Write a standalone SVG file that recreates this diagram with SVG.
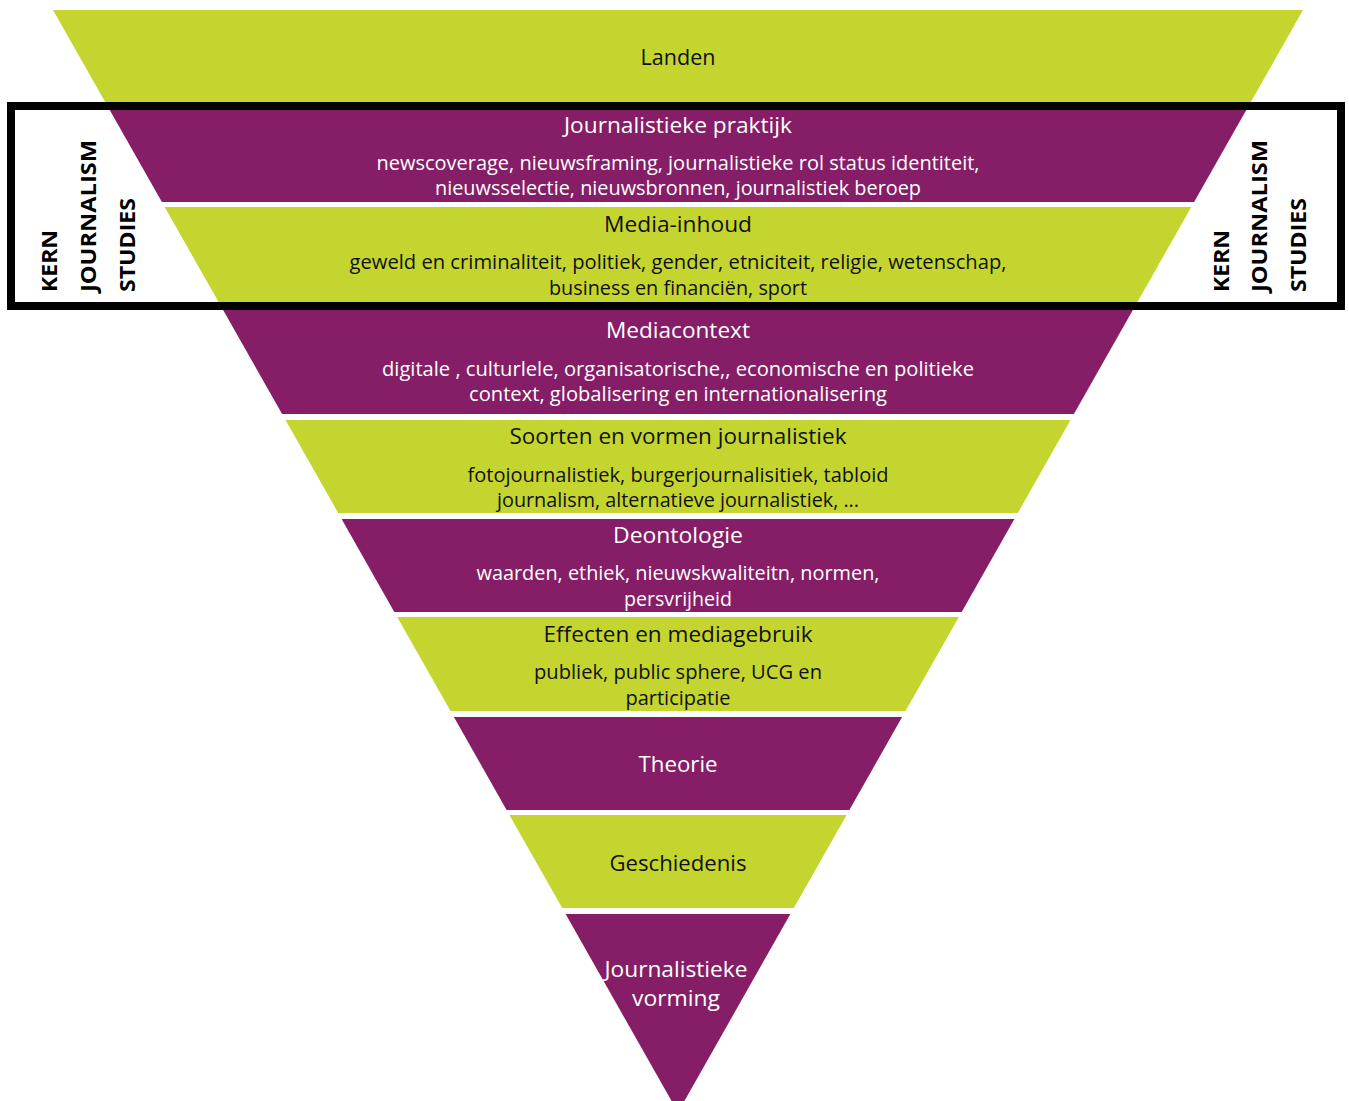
<svg xmlns="http://www.w3.org/2000/svg" width="1349" height="1101" viewBox="0 0 1349 1101">
<style>
.g{fill:#C5D52F}
.p{fill:#851E67}
text{font-family:"Open Sans","Noto Sans",sans-serif;text-anchor:middle}
.t{font-size:22.5px}
.b{font-size:20px}
.w{fill:#FFFFFF}
.k{fill:#111111}
.side{font-size:21px;font-weight:bold;fill:#000;text-anchor:start}
</style>
<rect width="1349" height="1101" fill="#FFFFFF"/>
<g id="landen">
<polygon class="g" points="53,10 1303,10 1250.8,102 105.2,102"/>
<text class="t k" x="678" y="65" textLength="75" lengthAdjust="spacingAndGlyphs">Landen</text>
</g>
<g id="journalistieke-praktijk">
<polygon class="p" points="108,107 1248,107 1194.1,202 161.9,202"/>
<text class="t w" x="678" y="133" textLength="228" lengthAdjust="spacingAndGlyphs">Journalistieke praktijk</text>
<text class="b w" x="678" y="170" textLength="603" lengthAdjust="spacingAndGlyphs">newscoverage, nieuwsframing, journalistieke rol status identiteit,</text>
<text class="b w" x="678" y="195" textLength="486" lengthAdjust="spacingAndGlyphs">nieuwsselectie, nieuwsbronnen, journalistiek beroep</text>
</g>
<g id="media-inhoud">
<polygon class="g" points="164.7,207 1191.3,207 1136.9,303 219.1,303"/>
<text class="t k" x="678" y="232" textLength="148" lengthAdjust="spacingAndGlyphs">Media-inhoud</text>
<text class="b k" x="678" y="269" textLength="657" lengthAdjust="spacingAndGlyphs">geweld en criminaliteit, politiek, gender, etniciteit, religie, wetenschap,</text>
<text class="b k" x="678" y="295" textLength="258" lengthAdjust="spacingAndGlyphs">business en financiën, sport</text>
</g>
<g id="mediacontext">
<polygon class="p" points="222,308 1134,308 1073.9,414 282.1,414"/>
<text class="t w" x="678" y="338" textLength="144" lengthAdjust="spacingAndGlyphs">Mediacontext</text>
<text class="b w" x="678" y="376" textLength="592" lengthAdjust="spacingAndGlyphs">digitale , culturlele, organisatorische,, economische en politieke</text>
<text class="b w" x="678" y="401" textLength="418" lengthAdjust="spacingAndGlyphs">context, globalisering en internationalisering</text>
</g>
<g id="soorten">
<polygon class="g" points="285.5,420 1070.5,420 1017.8,513 338.2,513"/>
<text class="t k" x="678" y="444" textLength="337" lengthAdjust="spacingAndGlyphs">Soorten en vormen journalistiek</text>
<text class="b k" x="678" y="482" textLength="421" lengthAdjust="spacingAndGlyphs">fotojournalistiek, burgerjournalisitiek, tabloid</text>
<text class="b k" x="678" y="507" textLength="362" lengthAdjust="spacingAndGlyphs">journalism, alternatieve journalistiek, ...</text>
</g>
<g id="deontologie">
<polygon class="p" points="341.6,519 1014.4,519 961.7,612 394.3,612"/>
<text class="t w" x="678" y="543" textLength="130" lengthAdjust="spacingAndGlyphs">Deontologie</text>
<text class="b w" x="678" y="580" textLength="403" lengthAdjust="spacingAndGlyphs">waarden, ethiek, nieuwskwaliteitn, normen,</text>
<text class="b w" x="678" y="606" textLength="108" lengthAdjust="spacingAndGlyphs">persvrijheid</text>
</g>
<g id="effecten">
<polygon class="g" points="397.2,617 958.8,617 905.5,711 450.5,711"/>
<text class="t k" x="678" y="642" textLength="269" lengthAdjust="spacingAndGlyphs">Effecten en mediagebruik</text>
<text class="b k" x="678" y="679" textLength="288" lengthAdjust="spacingAndGlyphs">publiek, public sphere, UCG en</text>
<text class="b k" x="678" y="705" textLength="105" lengthAdjust="spacingAndGlyphs">participatie</text>
</g>
<g id="theorie">
<polygon class="p" points="453.9,717 902.1,717 849.4,810 506.6,810"/>
<text class="t w" x="678" y="772" textLength="79" lengthAdjust="spacingAndGlyphs">Theorie</text>
</g>
<g id="geschiedenis">
<polygon class="g" points="509.4,815 846.6,815 793.8,908 562.2,908"/>
<text class="t k" x="678" y="871" textLength="137" lengthAdjust="spacingAndGlyphs">Geschiedenis</text>
</g>
<g id="journalistieke-vorming">
<polygon class="p" points="565.6,914 790.4,914 678,1112.3"/>
<text class="t w" x="676" y="977" textLength="143" lengthAdjust="spacingAndGlyphs">Journalistieke</text>
<text class="t w" x="676" y="1006" textLength="88" lengthAdjust="spacingAndGlyphs">vorming</text>
</g>
<g id="kern-frame">
<rect x="11" y="106" width="1330" height="200" fill="none" stroke="#000" stroke-width="8"/>
</g>
<g id="kern-left">
<text class="side" transform="translate(57,292) rotate(-90)" textLength="62" lengthAdjust="spacingAndGlyphs">KERN</text>
<text class="side" transform="translate(96,292) rotate(-90)" textLength="152" lengthAdjust="spacingAndGlyphs">JOURNALISM</text>
<text class="side" transform="translate(135,292) rotate(-90)" textLength="94" lengthAdjust="spacingAndGlyphs">STUDIES</text>
</g>
<g id="kern-right">
<text class="side" transform="translate(1229,292) rotate(-90)" textLength="62" lengthAdjust="spacingAndGlyphs">KERN</text>
<text class="side" transform="translate(1267,292) rotate(-90)" textLength="152" lengthAdjust="spacingAndGlyphs">JOURNALISM</text>
<text class="side" transform="translate(1306,292) rotate(-90)" textLength="94" lengthAdjust="spacingAndGlyphs">STUDIES</text>
</g>
<g id="connectors"></g>
</svg>
